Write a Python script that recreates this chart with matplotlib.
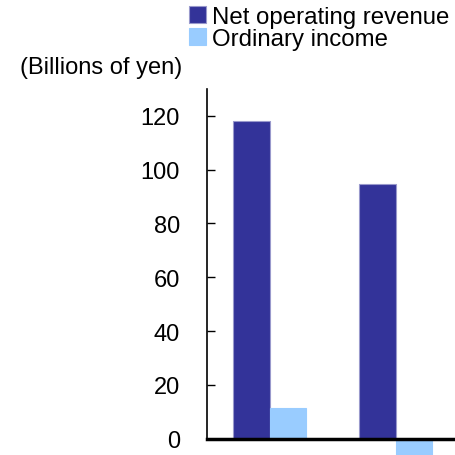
import numpy as np
import matplotlib.pyplot as plt

plt.rcParams['font.family'] = ['Liberation Sans', 'DejaVu Sans']

categories = ["A", "B"]
net_operating_revenue = [118.2, 94.8]
ordinary_income = [11.5, -7.0]
yticks = [0, 20, 40, 60, 80, 100, 120]

fig = plt.figure(figsize=(4.56, 4.56), dpi=100)
ax = fig.add_axes([0.454, 0.0, 0.546, 0.803])

x = np.arange(len(categories))
w = 0.29
ax.bar(x - w / 2, net_operating_revenue, w, color="#333399", edgecolor="#9999cc",
       linewidth=0.8, label="Net operating revenue")
ax.bar(x + w / 2, ordinary_income, w, color="#99ccff", edgecolor="#99ccff",
       linewidth=0.8, label="Ordinary income")

ax.set_xlim(-0.5, 1.48)
ax.set_ylim(-6, 130)
ax.set_yticks(yticks)
ax.set_xticks([])
ax.tick_params(axis="y", direction="in", length=6, width=1, labelsize=17, pad=19.5)

ax.spines["top"].set_visible(False)
ax.spines["right"].set_visible(False)
ax.spines["bottom"].set_position(("data", 0))
ax.spines["bottom"].set_linewidth(2.5)
ax.spines["left"].set_linewidth(1.2)
ax.spines["left"].set_bounds(0, 130)

fig.text(0.044, 0.851, "(Billions of yen)", fontsize=17, ha="left", va="center")

fig.legend(loc="upper left", bbox_to_anchor=(0.41, 0.99), frameon=False,
           fontsize=17.3, handlelength=0.68, handleheight=0.68, handletextpad=0.25,
           labelspacing=0.0, borderaxespad=0, borderpad=0.1)

fig.savefig("out.png", dpi=100)
